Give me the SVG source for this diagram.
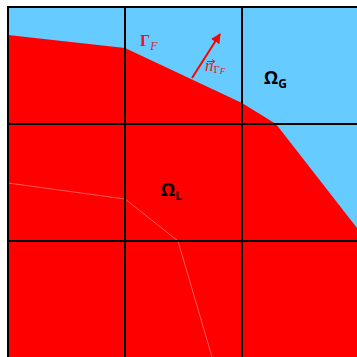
<svg xmlns="http://www.w3.org/2000/svg" width="357" height="357" viewBox="0 0 357 357">
  <defs>
    <style>
      .grid { stroke: #000; stroke-width: 2; fill: none; }
      .old { stroke: #ff7f7f; stroke-width: 0.7; fill: none; }
      .lbl { font-family: "Open Sans", "DejaVu Sans", sans-serif; font-weight: bold; fill: #000; }
      .red { font-family: "Liberation Serif", "DejaVu Serif", serif; fill: #e8161e; }
    </style>
    <marker id="ah" viewBox="0 0 10 10" refX="9" refY="5" markerWidth="5" markerHeight="5" orient="auto" markerUnits="strokeWidth">
      <path d="M0,0 L10,5 L0,10 z" fill="#ff0000"/>
    </marker>
  </defs>
  <rect x="0" y="0" width="357" height="357" fill="#fff"/>
  <g id="gas">
    <rect x="8" y="7" width="349" height="350" fill="#66ccff"/>
  </g>
  <g id="liquid">
    <polygon points="8,35 125,48 242,103 276,124 357,228 357,357 8,357" fill="#ff0000"/>
    <polyline class="old" points="8,183 125,199 178,241 212,357"/>
  </g>
  <g id="grid">
    <path class="grid" d="M8,357 V7 H357 M125,7 V357 M242,7 V357 M8,124 H357 M8,241 H357"/>
  </g>
  <g id="connectors">
    <line x1="192" y1="78" x2="220" y2="34" stroke="#ff0000" stroke-width="2" marker-end="url(#ah)"/>
  </g>
  <g id="label-gammaF">
    <text class="red" x="140" y="46" font-size="16" font-weight="bold">Γ<tspan font-style="italic" font-weight="normal" font-size="12" dy="4">F</tspan></text>
  </g>
  <g id="label-normal">
    <text class="red" x="205" y="71" font-size="17" font-style="italic">n<tspan font-size="11" font-style="normal" dy="2">Γ</tspan><tspan font-size="9" font-style="italic" dy="1">F</tspan></text>
    <path d="M207,61.5 H214 M212,59.5 L215,61.5 L212,63.5" stroke="#e8161e" stroke-width="1" fill="none"/>
  </g>
  <g id="label-omegaG">
    <text class="lbl" x="264" y="84" font-size="18">Ω<tspan font-size="12" dy="4">G</tspan></text>
  </g>
  <g id="label-omegaL">
    <text class="lbl" x="161" y="196" font-size="18">Ω<tspan font-size="12" dy="4">L</tspan></text>
  </g>
</svg>
